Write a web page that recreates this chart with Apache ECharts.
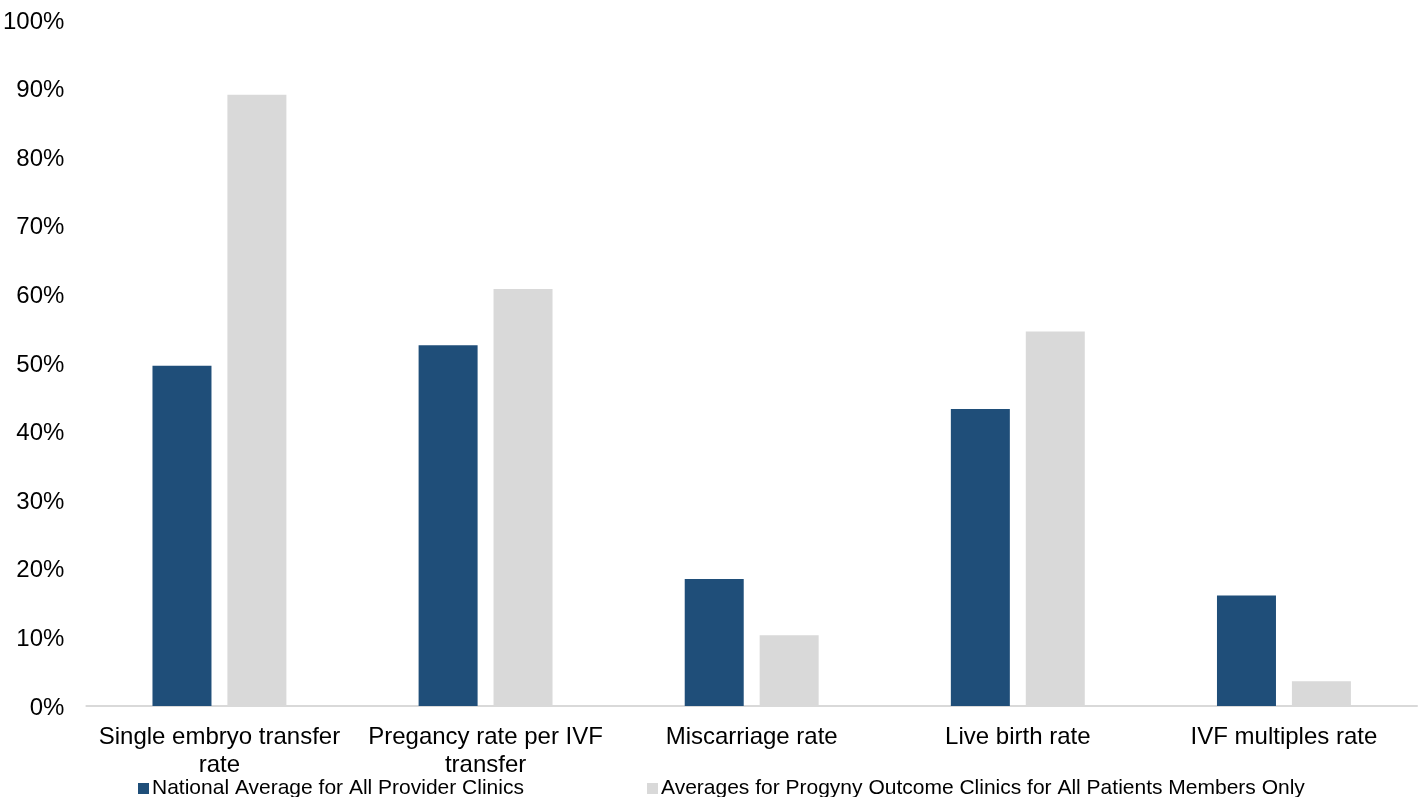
<!DOCTYPE html>
<html>
<head>
<meta charset="utf-8">
<script src="https://cdn.jsdelivr.net/npm/echarts@6/dist/echarts.min.js"></script>
<style>
  html, body { margin: 0; padding: 0; background: #ffffff; }
  #chart { width: 1421px; height: 797px; }
</style>
</head>
<body>
<div id="chart"></div>
<script>
// IVF outcome rates by metric
const categories = [
  'Single embryo transfer\nrate',
  'Pregancy rate per IVF\ntransfer',
  'Miscarriage rate',
  'Live birth rate',
  'IVF multiples rate'
];
const seriesNames = [
  'National Average for All Provider Clinics',
  'Averages for Progyny Outcome Clinics for All Patients Members Only'
];
const nationalAverage = [49.6, 52.6, 18.5, 43.3, 16.1];
const progynyAverage = [89.1, 60.8, 10.3, 54.6, 3.6];
const yTicks = [0, 10, 20, 30, 40, 50, 60, 70, 80, 90, 100];

const fontFamily = '"Liberation Sans", Arial, sans-serif';
const chart = echarts.init(document.getElementById('chart'));

const legendText = { fontFamily, fontSize: 21, color: '#000000', padding: [0, 0, 0, -2] };

chart.setOption({
  animation: false,
  backgroundColor: '#ffffff',
  grid: { left: 86, right: 4, top: 20, bottom: 91, containLabel: false },
  legend: [
    {
      data: [seriesNames[0]],
      left: 133, top: 773,
      itemWidth: 11, itemHeight: 11,
      icon: 'rect',
      textStyle: legendText
    },
    {
      data: [seriesNames[1]],
      left: 642, top: 773,
      itemWidth: 11, itemHeight: 11,
      icon: 'rect',
      textStyle: legendText
    }
  ],
  xAxis: {
    type: 'category',
    data: categories,
    axisLine: { show: true, lineStyle: { color: '#d9d9d9', width: 2 } },
    axisTick: { show: false },
    axisLabel: {
      fontFamily, fontSize: 24, color: '#000000',
      lineHeight: 28, margin: 17, interval: 0, align: 'center'
    }
  },
  yAxis: {
    type: 'value',
    min: yTicks[0],
    max: yTicks[yTicks.length - 1],
    interval: yTicks[1] - yTicks[0],
    axisLine: { show: false },
    axisTick: { show: false },
    splitLine: { show: false },
    axisLabel: {
      fontFamily, fontSize: 24, color: '#000000', margin: 22,
      formatter: v => '{v|' + v + '%}',
      rich: { v: { fontFamily, fontSize: 24, color: '#000000', padding: [4, 0, 0, 0] } }
    }
  },
  series: [
    {
      name: seriesNames[0],
      type: 'bar',
      data: nationalAverage,
      barWidth: 59,
      barGap: '27%',
      itemStyle: { color: '#1f4e79' }
    },
    {
      name: seriesNames[1],
      type: 'bar',
      data: progynyAverage,
      barWidth: 59,
      barGap: '27%',
      itemStyle: { color: '#d9d9d9' }
    }
  ]
});
</script>
</body>
</html>
